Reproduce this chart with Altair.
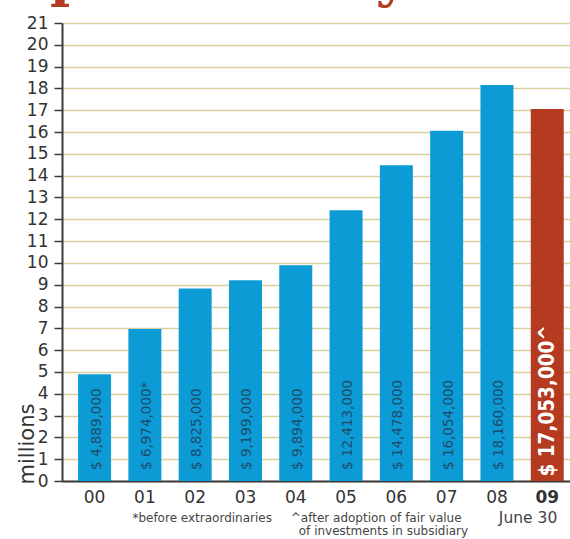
import altair as alt
import pandas as pd

years = ["00", "01", "02", "03", "04", "05", "06", "07", "08", "09"]
values = [4.889, 6.974, 8.825, 9.199, 9.894, 12.413, 14.478, 16.054, 18.160, 17.053]
labels = ["$ 4,889,000", "$ 6,974,000*", "$ 8,825,000", "$ 9,199,000", "$ 9,894,000",
          "$ 12,413,000", "$ 14,478,000", "$ 16,054,000", "$ 18,160,000", "$ 17,053,000^"]
highlight = [False] * 9 + [True]

note_texts = ["*before extraordinaries", "^after adoption of fair value",
              "of investments in subsidiary", "June 30"]
note_years = ["02", "04", "04", "09"]
note_align = ["center", "left", "left", "right"]
note_dx = [7, -5, 3, 10]
note_y = [494.5, 494.5, 507.5, 494.5]
note_size = [12, 12, 12, 15.5]

title_text = "profitability"

BLUE = "#0d9bd6"
RED = "#b43a20"
GRID = "#d9cf9f"
AXIS = "#3a3a3a"

df = pd.DataFrame({"year": years, "value": values, "label": labels, "hl": highlight})
notes = pd.DataFrame({"text": note_texts, "year": note_years})

W, H = 508, 458

xscale = alt.Scale(domain=years, paddingInner=0.344, paddingOuter=0.222, align=0.72)
xaxis = alt.Axis(title=None, labelAngle=0, ticks=False, domainColor=AXIS,
                 domainWidth=2, labelFont="DejaVu Sans", labelFontSize=17,
                 labelColor="#333333", labelPadding=8,
                 labelFontWeight=alt.ExprRef(expr="datum.value === '09' ? 'bold' : 'normal'"))
yscale = alt.Scale(domain=[0, 21], nice=False, zero=True)
yaxis = alt.Axis(values=list(range(22)), title="millions", titleFont="DejaVu Sans",
                 titleFontSize=21, titleFontWeight="normal", titleColor="#333333",
                 titleAngle=270, titleAlign="left", titleBaseline="alphabetic",
                 titleX=-29, titleY=H + 3, labelFont="DejaVu Sans", labelFontSize=17,
                 labelColor="#333333", labelPadding=6, labelOverlap=False,
                 tickSize=8, tickColor=AXIS, tickWidth=1.5, domainColor=AXIS,
                 domainWidth=2, grid=True, gridColor=GRID, gridWidth=1.5)

x = alt.X("year:N", sort=years, scale=xscale, axis=xaxis)

bars = alt.Chart(df).mark_bar().encode(
    x=x,
    y=alt.Y("value:Q", scale=yscale, axis=yaxis),
    color=alt.Color("hl:N", scale=alt.Scale(domain=[False, True], range=[BLUE, RED]), legend=None),
)

base_text = alt.Chart(df).transform_calculate(zero="0")
y0 = alt.Y("zero:Q", scale=yscale, axis=yaxis)

blue_labels = base_text.transform_filter("!datum.hl").mark_text(
    angle=270, align="left", baseline="middle", dx=11, dy=2,
    font="DejaVu Sans", fontSize=13.5, color="#1d4d6d",
).encode(x=x, y=y0, text="label:N")

red_label = base_text.transform_filter("datum.hl").mark_text(
    angle=270, align="left", baseline="middle", dx=4.5, dy=1,
    font="DejaVu Sans Condensed, DejaVu Sans",
    fontSize=20.5, fontWeight="bold", color="white",
).encode(x=x, y=y0, text="label:N")

note_layers = []
for i in range(len(note_texts)):
    sub = notes.iloc[[i]]
    note_layers.append(
        alt.Chart(sub).mark_text(
            align=note_align[i], baseline="middle", dx=note_dx[i],
            font="DejaVu Sans", fontSize=note_size[i], color="#444444",
        ).encode(x=x, y=alt.value(note_y[i]), text="text:N")
    )

title = alt.Chart(pd.DataFrame({"t": [title_text]})).mark_text(
    align="left", baseline="alphabetic", font="DejaVu Serif", fontWeight="bold",
    fontSize=54, color=RED,
).encode(x=alt.value(-12), y=alt.value(-27), text="t:N")

chart = alt.layer(bars, blue_labels, red_label, *note_layers, title).properties(
    width=W, height=H,
    autosize=alt.AutoSizeParams(type="none"),
    padding={"left": 62, "top": 23, "right": 0, "bottom": 58},
    background="white",
).configure_view(stroke=None)

chart.save("out.html", embed_options={"renderer": "svg", "actions": False})
